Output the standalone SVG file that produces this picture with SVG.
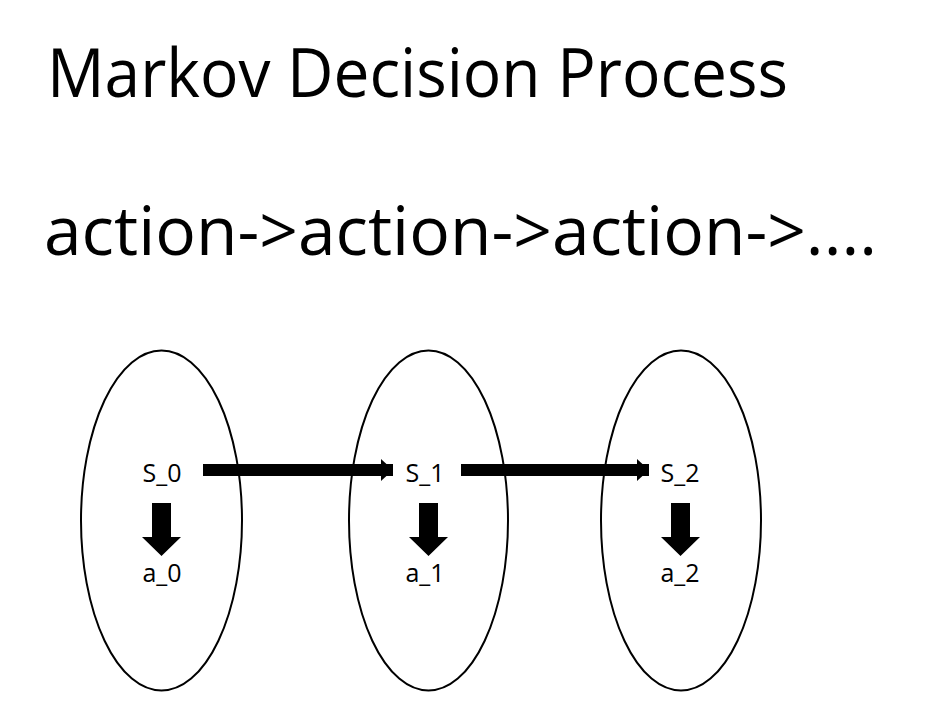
<svg xmlns="http://www.w3.org/2000/svg" width="948" height="718" viewBox="0 0 948 718">
<style>
.big{font-family:"Open Sans","Noto Sans","Liberation Sans",sans-serif;fill:#000}
.lbl{font-family:"Open Sans","Noto Sans","Liberation Sans",sans-serif;font-size:25px;fill:#000;text-anchor:middle}
.st{fill:none;stroke:#000;stroke-width:2}
</style>
<defs>
<marker id="ah" markerWidth="12" markerHeight="22" refX="12" refY="11" orient="auto" markerUnits="userSpaceOnUse">
<path d="M0,0 L12,11 L0,22 Z" fill="#000"/>
</marker>
</defs>
<rect width="948" height="718" fill="#fff"/>
<text class="big" x="47" y="97" font-size="68" textLength="741" lengthAdjust="spacingAndGlyphs">Markov Decision Process</text>
<text class="big" x="44" y="255" font-size="68" textLength="833" lengthAdjust="spacingAndGlyphs">action-&gt;action-&gt;action-&gt;....</text>
<g id="state0">
<ellipse class="st" cx="161.5" cy="520.5" rx="80.5" ry="170"/>
<text class="lbl" x="162" y="482">S_0</text>
<path d="M152,503 H171 V537 H181 L161.5,556 L142,537 H152 Z" fill="#000"/>
<text class="lbl" x="162" y="582">a_0</text>
</g>
<g id="state1">
<ellipse class="st" cx="428.5" cy="520.5" rx="79.5" ry="170"/>
<text class="lbl" x="425" y="482">S_1</text>
<path d="M419,503 H438 V537 H448 L428.5,556 L409,537 H419 Z" fill="#000"/>
<text class="lbl" x="425" y="582">a_1</text>
</g>
<g id="state2">
<ellipse class="st" cx="681" cy="520.5" rx="80" ry="170"/>
<text class="lbl" x="680" y="482">S_2</text>
<path d="M671,503 H690 V537 H700 L680.5,556 L661,537 H671 Z" fill="#000"/>
<text class="lbl" x="680" y="582">a_2</text>
</g>
<g id="connectors">
<line x1="203" y1="470" x2="393" y2="470" stroke="#000" stroke-width="12" marker-end="url(#ah)"/>
<line x1="461" y1="470" x2="649" y2="470" stroke="#000" stroke-width="12" marker-end="url(#ah)"/>
</g>
</svg>
